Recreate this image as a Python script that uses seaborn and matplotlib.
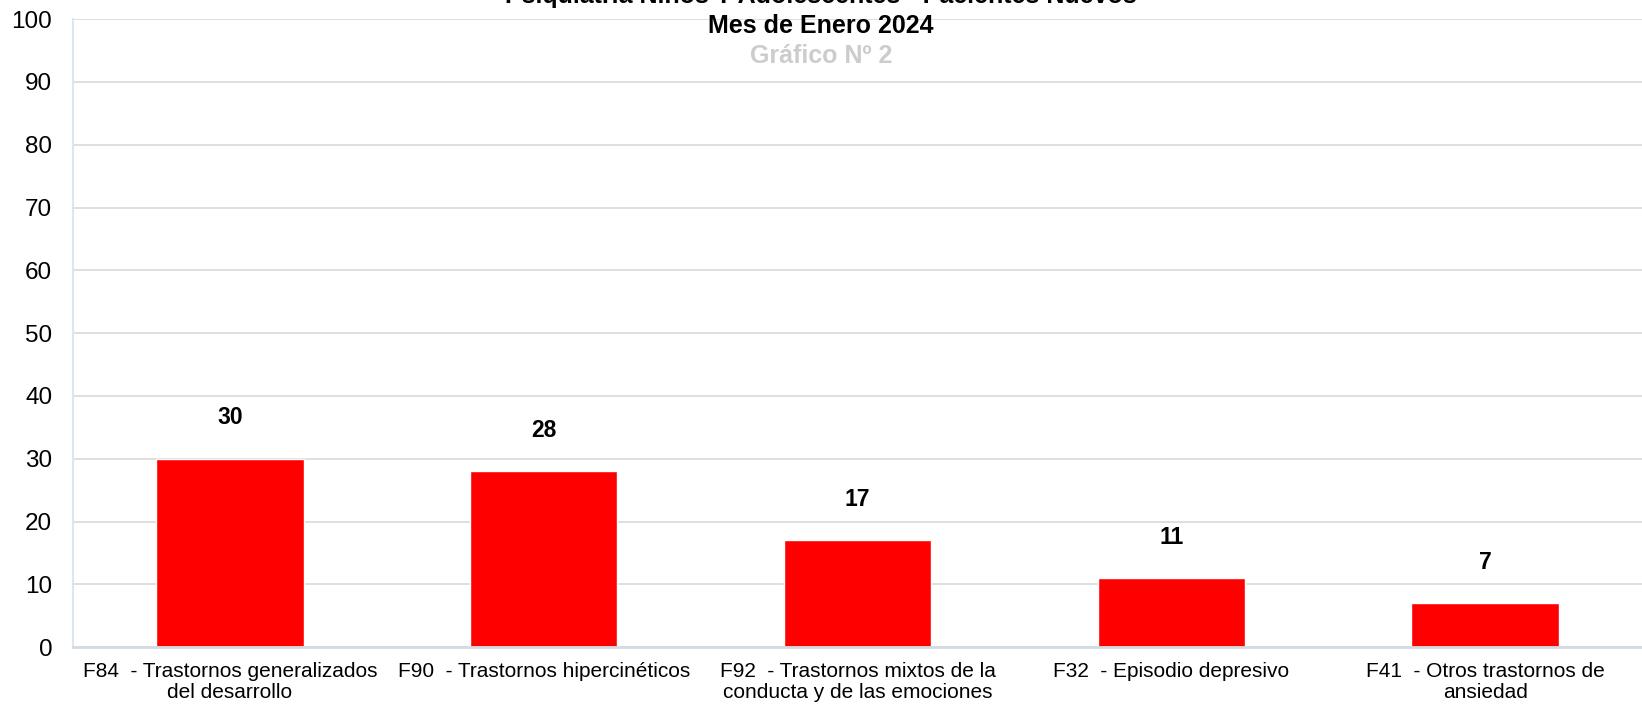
import pandas as pd
import matplotlib.pyplot as plt
import seaborn as sns

# data
categorias = ['F84  - Trastornos generalizados\ndel desarrollo',
              'F90  - Trastornos hipercinéticos',
              'F92  - Trastornos mixtos de la\nconducta y de las emociones',
              'F32  - Episodio depresivo',
              'F41  - Otros trastornos de\nansiedad']
pacientes = [30, 28, 17, 11, 7]
y_ticks = [0, 10, 20, 30, 40, 50, 60, 70, 80, 90, 100]

df = pd.DataFrame({'categoria': categorias, 'pacientes': pacientes})

sns.set_theme(style='white')
plt.rcParams['font.family'] = ['Liberation Sans', 'DejaVu Sans']

fig = plt.figure(figsize=(16.42, 7.08), dpi=100)
ax = fig.add_axes([0.0445, 0.086, 0.9555, 0.887])

sns.barplot(data=df, x='categoria', y='pacientes', color='#ff0000',
            saturation=1, width=0.47, ax=ax)

# value labels above bars
for i, v in enumerate(pacientes):
    ax.annotate(str(v), (i, v), xytext=(0, 29.5), textcoords='offset points',
                ha='center', va='center', fontsize=16.5, fontweight='bold',
                color='black')

ax.set_xlim(-0.5, 4.5)
ax.set_ylim(0, 100)
ax.set_yticks(y_ticks)
ax.yaxis.grid(True, color='#d9d9d9', linewidth=1.2)
ax.set_axisbelow(True)
ax.set_xlabel('')
ax.set_ylabel('')
ax.tick_params(axis='y', labelsize=17.5, pad=15, length=0, colors='black')
ax.tick_params(axis='x', labelsize=15, pad=11, length=0, colors='black')
for lbl in ax.get_xticklabels():
    lbl.set_linespacing(1.1)

for s in ['top', 'right']:
    ax.spines[s].set_visible(False)
ax.spines['left'].set_color('#dce6f2')
ax.spines['left'].set_linewidth(1.5)
ax.spines['bottom'].set_color('#d5dbe3')
ax.spines['bottom'].set_linewidth(2)

# titles
fig.text(0.5, 0.996, 'Psiquiatría Niños Y Adolescentes - Pacientes Nuevos',
         ha='center', va='baseline', fontsize=18, fontweight='bold',
         color='black')
fig.text(0.5, 0.953, 'Mes de Enero 2024', ha='center', va='baseline',
         fontsize=18, fontweight='bold', color='black')
fig.text(0.5, 0.911, 'Gráfico Nº 2', ha='center', va='baseline',
         fontsize=18, fontweight='bold', color='#cccccc')

plt.savefig('out.png', dpi=100)
